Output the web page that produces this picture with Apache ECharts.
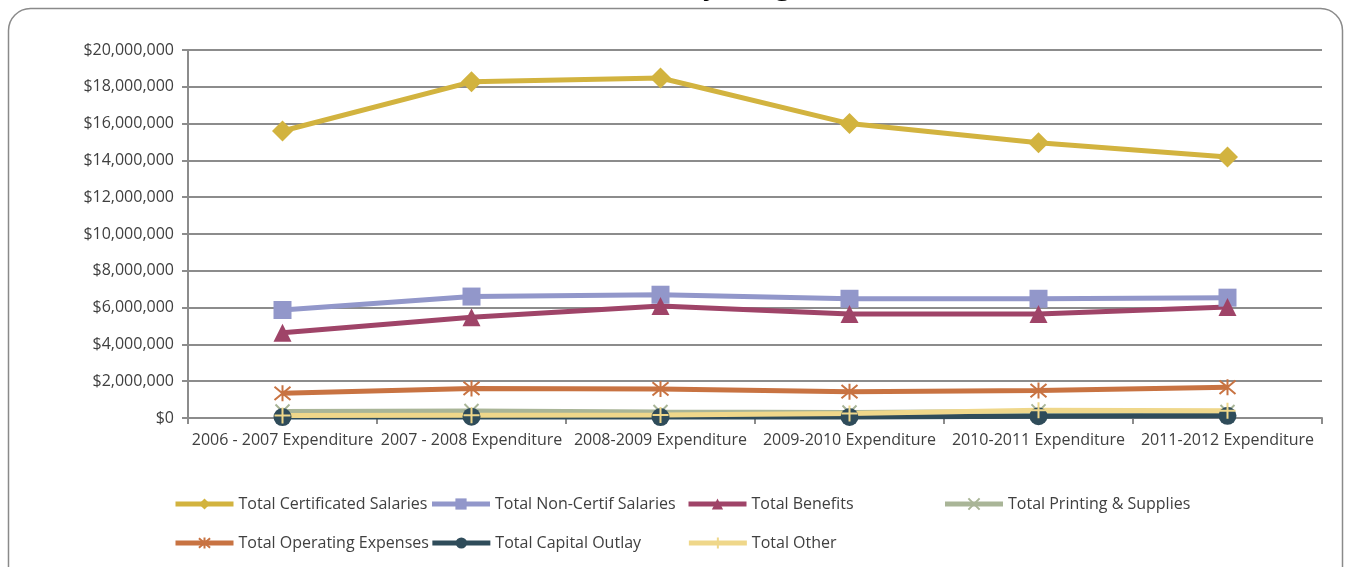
<!DOCTYPE html>
<html>
<head>
<meta charset="utf-8">
<script src="https://cdn.jsdelivr.net/npm/echarts@6/dist/echarts.min.js"></script>
<style>
  html, body { margin: 0; padding: 0; background: #ffffff; }
  #chart { width: 1351px; height: 567px; }
</style>
</head>
<body>
<div id="chart"></div>
<script>
// Fiscal years shown on the category axis
const categories = [
  '2006 - 2007 Expenditure',
  '2007 - 2008 Expenditure',
  '2008-2009 Expenditure',
  '2009-2010 Expenditure',
  '2010-2011 Expenditure',
  '2011-2012 Expenditure'
];

// Spending per budget line, in dollars
const certificatedSalaries = [15600000, 18270000, 18480000, 16000000, 14960000, 14180000];
const nonCertifSalaries    = [5870000, 6600000, 6700000, 6480000, 6480000, 6540000];
const benefits             = [4630000, 5480000, 6090000, 5650000, 5650000, 6030000];
const printingSupplies     = [350000, 380000, 330000, 300000, 360000, 330000];
const operatingExpenses    = [1340000, 1610000, 1580000, 1430000, 1490000, 1670000];
const capitalOutlay        = [50000, 70000, 50000, 60000, 100000, 120000];
const totalOther           = [140000, 150000, 160000, 240000, 420000, 400000];

// Y axis tick settings
const yMin = 0;
const yMax = 20000000;
const yStep = 2000000;

const FONT = '"Open Sans", "Noto Sans", sans-serif';
const TEXT = '#404040';
const GRID = '#8c8c8c';

const xMark = 'path://M0,0L10,10M10,0L0,10';
const starMark = 'path://M0,0L10,10M10,0L0,10M5,-1L5,11';
const plusMark = 'path://M5,0L5,10M0,5L10,5';

function money(v) {
  return '$' + v.toLocaleString('en-US');
}

function lineSeries(name, data, color, symbol, size, extra) {
  const s = {
    name: name,
    type: 'line',
    data: data,
    symbol: symbol,
    symbolSize: size,
    showAllSymbol: true,
    lineStyle: { color: color, width: 5 },
    itemStyle: { color: color },
    emphasis: { disabled: true },
    animation: false
  };
  return Object.assign(s, extra || {});
}

const chart = echarts.init(document.getElementById('chart'), null, { renderer: 'canvas' });

chart.setOption({
  backgroundColor: '#ffffff',
  textStyle: { fontFamily: FONT },
  graphic: [
    {
      type: 'rect',
      shape: { x: 8.5, y: 8.5, width: 1334, height: 620, r: 22 },
      style: { fill: 'none', stroke: '#8a8a8a', lineWidth: 1.5 },
      z: -10
    },
    {
      type: 'text',
      x: 690,
      y: 1,
      style: {
        text: 'Total Yearly Budget',
        font: 'bold 26px ' + FONT,
        fill: '#000000',
        align: 'center',
        verticalAlign: 'bottom'
      }
    }
  ],
  grid: { left: 188, right: 29, top: 50, bottom: 149, containLabel: false },
  xAxis: {
    type: 'category',
    data: categories,
    boundaryGap: true,
    axisLine: { show: true, lineStyle: { color: GRID, width: 2 } },
    axisTick: { show: true, length: 6, lineStyle: { color: GRID, width: 2 } },
    axisLabel: { color: TEXT, fontSize: 16, margin: 14, fontFamily: FONT, interval: 0 },
    splitLine: { show: false }
  },
  yAxis: {
    type: 'value',
    min: yMin,
    max: yMax,
    interval: yStep,
    axisLine: { show: true, lineStyle: { color: GRID, width: 2 } },
    axisTick: { show: true, length: 6, lineStyle: { color: GRID, width: 2 } },
    axisLabel: { color: TEXT, fontSize: 16, margin: 14, fontFamily: FONT, formatter: money },
    splitLine: { show: true, lineStyle: { color: GRID, width: 2 } }
  },
  legend: {
    left: 168,
    top: 480,
    width: 1140,
    itemWidth: 58,
    itemHeight: 14,
    itemGap: 1,
    lineStyle: { width: 5 },
    textStyle: { color: TEXT, fontSize: 16, fontFamily: FONT, width: 190, lineHeight: 38 },
    data: [
      'Total Certificated Salaries', 'Total Non-Certif Salaries', 'Total Benefits',
      'Total Printing & Supplies', 'Total Operating Expenses', 'Total Capital Outlay', 'Total Other'
    ]
  },
  series: [
    lineSeries('Total Certificated Salaries', certificatedSalaries, '#d2b33f', 'diamond', 21),
    lineSeries('Total Non-Certif Salaries', nonCertifSalaries, '#9297ca', 'rect', 18),
    lineSeries('Total Benefits', benefits, '#9f4468', 'triangle', 18),
    lineSeries('Total Printing & Supplies', printingSupplies, '#a9b597', xMark, 14, {
      itemStyle: { color: '#a9b597', borderColor: '#a9b597', borderWidth: 2 }
    }),
    lineSeries('Total Operating Expenses', operatingExpenses, '#c87342', starMark, 16, {
      itemStyle: { color: '#c87342', borderColor: '#c87342', borderWidth: 2 }
    }),
    lineSeries('Total Capital Outlay', capitalOutlay, '#2f4c5a', 'circle', 18),
    lineSeries('Total Other', totalOther, '#efd78a', plusMark, 16, {
      itemStyle: { color: '#efd78a', borderColor: '#efd78a', borderWidth: 2 }
    })
  ]
});
</script>
</body>
</html>
